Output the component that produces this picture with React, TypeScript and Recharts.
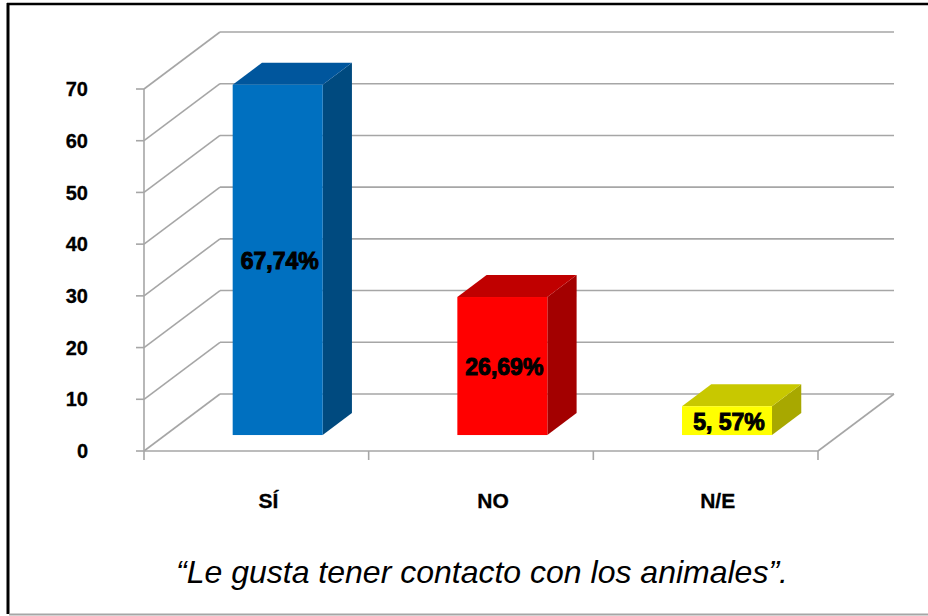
import React from 'react';
import { BarChart, Bar, XAxis, YAxis, CartesianGrid } from 'recharts';

const categories = ['SÍ', 'NO', 'N/E'];
const values = [67.74, 26.69, 5.57];
const valueLabels = ['67,74%', '26,69%', '5, 57%'];
const yTicks = [0, 10, 20, 30, 40, 50, 60, 70];
const caption = '\u201CLe gusta tener contacto con los animales\u201D.';

const frontColors = ['#0070C0', '#FF0000', '#FFFF00'];
const sideColors = ['#004A7F', '#A30000', '#A8A800'];
const topColors = ['#00569D', '#C00000', '#C8C800'];

const data = categories.map((name, i) => ({ name, value: values[i], label: valueLabels[i] }));

const W = 928;
const H = 616;
const DX = 76;
const DY = 57;
const FRONT = 0.28;
const DEPTH = 0.385;
const GRID = '#A6A6A6';
const FONT = '"Liberation Sans", Arial, Helvetica, sans-serif';

function Box3D(props: any) {
  const { x, y, width, height, index, payload } = props;
  if (width == null || height == null) return null;
  const fx = x + DX * FRONT;
  const fy = y - DY * FRONT;
  const bx = DX * DEPTH;
  const by = DY * DEPTH;
  const i = index ?? 0;
  const side = `${fx + width},${fy} ${fx + width + bx},${fy - by} ${fx + width + bx},${fy + height - by} ${fx + width},${fy + height}`;
  const top = `${fx},${fy} ${fx + bx},${fy - by} ${fx + width + bx},${fy - by} ${fx + width},${fy}`;
  return (
    <g>
      <polygon points={side} fill={sideColors[i]} />
      <polygon points={top} fill={topColors[i]} />
      <rect x={fx} y={fy} width={width} height={height} fill={frontColors[i]} />
      <text
        x={fx + width / 2 + 2}
        y={fy + height / 2 + 9}
        textAnchor="middle"
        fontFamily={FONT}
        fontWeight="bold"
        fontSize={23}
        fill="#000"
        stroke="#000"
        strokeWidth={1}
      >
        {payload?.label}
      </text>
    </g>
  );
}

function gridLine(p: any) {
  const { x1, y1, x2, index } = p;
  return (
    <g key={`g-${index}-${y1}`}>
      <line x1={x1} y1={y1} x2={x1 + DX} y2={y1 - DY} stroke={GRID} strokeWidth={1.6} />
      <line x1={x1 + DX} y1={y1 - DY} x2={x2 + DX} y2={y1 - DY} stroke={GRID} strokeWidth={1.6} />
    </g>
  );
}

function CatTick(props: any) {
  const { x, y, payload, index, width } = props;
  const half = (width ?? 674) / (2 * categories.length);
  const last = index === categories.length - 1;
  return (
    <g>
      <line x1={x - half} y1={y} x2={x - half} y2={y + 9} stroke={GRID} strokeWidth={1.6} />
      {last && <line x1={x + half} y1={y} x2={x + half} y2={y + 9} stroke={GRID} strokeWidth={1.6} />}
      {last && <line x1={x + half} y1={y} x2={x + half + DX} y2={y - DY} stroke={GRID} strokeWidth={1.6} />}
      <text x={x + 12} y={y + 57} textAnchor="middle" fontFamily={FONT} fontWeight="bold" fontSize={21} fill="#000" stroke="#000" strokeWidth={0.3}>
        {payload.value}
      </text>
    </g>
  );
}

export default function App() {
  return (
    <div style={{ position: 'absolute', left: 0, top: 0, width: W, height: H, background: '#fff' }}>
      <BarChart
        width={W}
        height={H}
        data={data}
        margin={{ top: 89, right: 110, bottom: 0, left: 0 }}
        barCategoryGap="30%"
      >
        <CartesianGrid vertical={false} horizontal={gridLine} />
        <XAxis
          dataKey="name"
          height={165}
          axisLine={{ stroke: GRID, strokeWidth: 1.6 }}
          tickLine={false}
          tickSize={0}
          tickMargin={0}
          tick={<CatTick />}
          interval={0}
        />
        <YAxis
          width={144}
          domain={[0, 70]}
          ticks={yTicks}
          interval={0}
          axisLine={{ stroke: GRID, strokeWidth: 1.6 }}
          tickLine={{ stroke: GRID, strokeWidth: 1.6 }}
          tickSize={8}
          tickMargin={48}
          tick={{ fill: '#000', fontSize: 20, fontWeight: 'bold', fontFamily: FONT, stroke: '#000', strokeWidth: 0.3 }}
        />
        <Bar dataKey="value" isAnimationActive={false} shape={<Box3D />} />
      </BarChart>
      <svg width={W} height={H} style={{ position: 'absolute', left: 0, top: 0, pointerEvents: 'none' }}>
        <line x1={8} y1={3} x2={8} y2={614} stroke="#000" strokeWidth={3} />
        <line x1={7} y1={4} x2={W} y2={4} stroke="#000" strokeWidth={2.5} />
        <line x1={9} y1={614.5} x2={W} y2={614.5} stroke="#A6A6A6" strokeWidth={2} />
        <text x={482} y={583} textAnchor="middle" fontFamily={FONT} fontStyle="italic" fontSize={32} fill="#000">
          {caption}
        </text>
      </svg>
    </div>
  );
}
